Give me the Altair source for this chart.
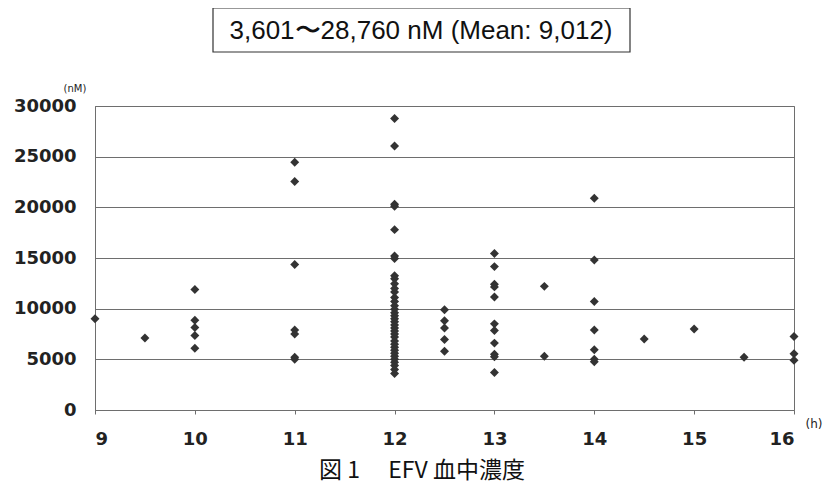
import altair as alt
import pandas as pd

# concentration (nM) by sampling time (h)
h9 = [9000]
h9_5 = [7100]
h10 = [11900, 8850, 8150, 7350, 6100]
h11 = [24450, 22550, 14350, 7900, 7500, 5200, 5000]
h12 = [28760, 26050, 20300, 20100, 17800, 15200, 14950, 13250, 12950, 12450,
       12000, 11650, 11100, 10700, 10300, 9950, 9600, 9300, 9000, 8700, 8400,
       8100, 7800, 7500, 7200, 6800, 6500, 6200, 5900, 5600, 5300, 5000, 4700,
       4400, 4000, 3601]
h12_5 = [9900, 8800, 8100, 6950, 5800]
h13 = [15450, 14150, 12400, 12150, 11150, 8500, 7850, 6600, 5500, 5250, 3700]
h13_5 = [12200, 5300]
h14 = [20900, 14800, 10700, 7900, 5950, 5000, 4750]
h14_5 = [7000]
h15 = [8000]
h15_5 = [5200]
h16 = [7250, 5550, 4900]

times = [9, 9.5, 10, 11, 12, 12.5, 13, 13.5, 14, 14.5, 15, 15.5, 16]
groups = [h9, h9_5, h10, h11, h12, h12_5, h13, h13_5, h14, h14_5, h15, h15_5, h16]
x_ticks = [9, 10, 11, 12, 13, 14, 15, 16]
y_ticks = [0, 5000, 10000, 15000, 20000, 25000, 30000]

title_text = "3,601〜28,760 nM (Mean: 9,012)"
caption_text = "図 1　 EFV 血中濃度"
y_unit = "(nM)"
x_unit = "(h)"

rows = []
for t, vals in zip(times, groups):
    for v in vals:
        rows.append({"time": t, "conc": v})
df = pd.DataFrame(rows)

W, H = 699, 304
GRID = "#6e6e6e"
FONT = "DejaVu Sans"

points = alt.Chart(df).mark_point(
    shape="diamond", filled=True, size=80, color="#333333", opacity=1
).encode(
    x=alt.X("time:Q",
            scale=alt.Scale(domain=[9, 16], nice=False, zero=False),
            axis=alt.Axis(values=x_ticks, title=None, grid=False, domain=True,
                          domainColor=GRID, ticks=True, tickSize=4, tickColor=GRID,
                          labelPadding=16, labelFont=FONT, labelFontSize=18,
                          labelFontWeight="bold", labelColor="#222222")),
    y=alt.Y("conc:Q",
            scale=alt.Scale(domain=[0, 30000], nice=False),
            axis=alt.Axis(values=y_ticks, format="d", title=None, grid=True,
                          gridColor=GRID, gridOpacity=1, gridWidth=1, domain=True,
                          domainColor=GRID, ticks=False, labelPadding=19,
                          labelFont=FONT, labelFontSize=18, labelFontWeight="bold",
                          labelColor="#222222")),
)

one = pd.DataFrame({"title": [title_text], "caption": [caption_text],
                    "yu": [y_unit], "xu": [x_unit]})
base = alt.Chart(one)

box = base.mark_rect(fill="white", stroke="#333333", strokeWidth=1.2).encode(
    x=alt.value(118), x2=alt.value(535), y=alt.value(-98), y2=alt.value(-54))
title = base.mark_text(font="Liberation Sans", fontSize=26, color="#111111",
                       align="center", baseline="middle").encode(
    x=alt.value(326), y=alt.value(-75), text="title:N")
caption = base.mark_text(font="Noto Sans CJK JP", fontSize=23, color="#111111",
                         align="center", baseline="middle").encode(
    x=alt.value(327), y=alt.value(365), text="caption:N")
yunit = base.mark_text(font=FONT, fontSize=10, color="#222222",
                       align="center", baseline="middle").encode(
    x=alt.value(-20), y=alt.value(-17), text="yu:N")
xunit = base.mark_text(font=FONT, fontSize=12, color="#222222",
                       align="center", baseline="middle").encode(
    x=alt.value(719), y=alt.value(318), text="xu:N")

chart = alt.layer(points, box, title, caption, yunit, xunit).properties(
    width=W, height=H,
    autosize=alt.AutoSizeParams(type="none"),
    padding={"left": 87, "top": 98, "right": 30, "bottom": 78},
    background="white",
).configure_view(stroke=GRID, strokeWidth=1)

chart.save("out.html", embed_options={"renderer": "svg", "actions": False})
